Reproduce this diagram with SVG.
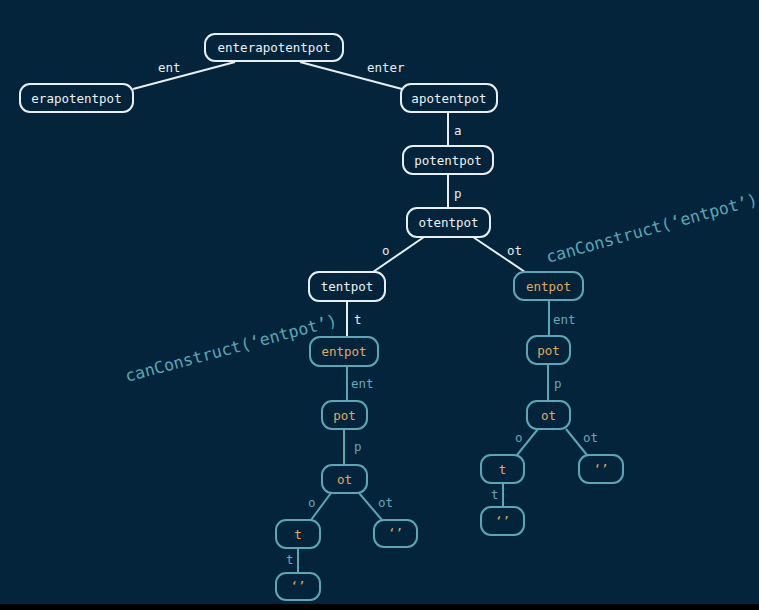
<svg xmlns="http://www.w3.org/2000/svg" width="759" height="610" viewBox="0 0 759 610">
<style>
.bg{fill:#03243a}
.nw rect{fill:#03243a;stroke:#e8eef1;stroke-width:2}
.nt rect{fill:#03243a;stroke:#5ba7b5;stroke-width:2}
.nw text{fill:#eef2f4;font-family:"DejaVu Sans Mono","Liberation Mono",monospace;font-size:12.5px;text-anchor:middle;dominant-baseline:central}
.nt text{fill:#e0ac5c;font-family:"DejaVu Sans Mono","Liberation Mono",monospace;font-size:12.5px;text-anchor:middle;dominant-baseline:central}
.ew{stroke:#e8eef1;stroke-width:2;fill:none}
.et{stroke:#5ba7b5;stroke-width:2;fill:none}
.lw{fill:#e8eef1;font-family:"DejaVu Sans Mono","Liberation Mono",monospace;font-size:12.5px}
.lt{fill:#6aa6b3;font-family:"DejaVu Sans Mono","Liberation Mono",monospace;font-size:12.5px}
.cc{fill:#5ba7b5;font-family:"DejaVu Sans Mono","Liberation Mono",monospace;font-size:16.5px}
</style>
<rect class="bg" x="0" y="0" width="759" height="604"/>
<rect x="0" y="604" width="759" height="6" fill="#000"/>
<g id="connectors">
<line class="ew" x1="235" y1="62" x2="133" y2="89"/>
<line class="ew" x1="300" y1="62" x2="402" y2="89"/>
<line class="ew" x1="448" y1="112" x2="448" y2="146"/>
<line class="ew" x1="448" y1="174" x2="448" y2="208"/>
<line class="ew" x1="424" y1="237" x2="373" y2="272"/>
<line class="ew" x1="473" y1="237" x2="525" y2="272"/>
<line class="ew" x1="347" y1="301" x2="347" y2="337"/>
<line class="et" x1="549" y1="300" x2="549" y2="336"/>
<line class="et" x1="347" y1="366" x2="347" y2="401"/>
<line class="et" x1="344" y1="429" x2="344" y2="465"/>
<line class="et" x1="331" y1="493" x2="311" y2="520"/>
<line class="et" x1="359" y1="493" x2="382" y2="520"/>
<line class="et" x1="298" y1="548" x2="298" y2="573"/>
<line class="et" x1="548" y1="364" x2="548" y2="401"/>
<line class="et" x1="538" y1="429" x2="517" y2="455"/>
<line class="et" x1="566" y1="429" x2="587" y2="455"/>
<line class="et" x1="503" y1="483" x2="503" y2="507"/>
<text class="lw" x="158" y="72">ent</text>
<text class="lw" x="367" y="72">enter</text>
<text class="lw" x="454" y="135">a</text>
<text class="lw" x="454" y="198">p</text>
<text class="lw" x="382" y="255">o</text>
<text class="lw" x="507" y="255">ot</text>
<text class="lw" x="354" y="324">t</text>
<text class="lt" x="553" y="324">ent</text>
<text class="lt" x="351" y="388">ent</text>
<text class="lt" x="354" y="451">p</text>
<text class="lt" x="554" y="388">p</text>
<text class="lt" x="308" y="507">o</text>
<text class="lt" x="378" y="507">ot</text>
<text class="lt" x="286" y="564">t</text>
<text class="lt" x="515" y="442">o</text>
<text class="lt" x="583" y="442">ot</text>
<text class="lt" x="491" y="499">t</text>
</g>
<text class="cc" transform="translate(127,382) rotate(-15)">canConstruct(‘entpot’)</text>
<text class="cc" transform="translate(548,263) rotate(-15.5)">canConstruct(‘entpot’)</text>
<g id="n_enterapotentpot" class="nw"><rect x="205" y="34" width="138" height="27" rx="10"/><text x="274" y="47.5">enterapotentpot</text></g>
<g id="n_erapotentpot" class="nw"><rect x="20" y="84" width="113" height="28" rx="10"/><text x="76.5" y="98">erapotentpot</text></g>
<g id="n_apotentpot" class="nw"><rect x="401" y="84" width="96" height="28" rx="10"/><text x="449" y="98">apotentpot</text></g>
<g id="n_potentpot" class="nw"><rect x="403" y="146" width="90" height="28" rx="10"/><text x="448" y="160">potentpot</text></g>
<g id="n_otentpot" class="nw"><rect x="407" y="208" width="83" height="29" rx="10"/><text x="448.5" y="222.5">otentpot</text></g>
<g id="n_tentpot" class="nw"><rect x="309" y="272" width="76" height="29" rx="10"/><text x="347" y="286.5">tentpot</text></g>
<g id="n_entpot_l" class="nt"><rect x="310" y="337" width="68" height="29" rx="10"/><text x="344" y="351.5">entpot</text></g>
<g id="n_pot_l" class="nt"><rect x="322" y="401" width="45" height="28" rx="10"/><text x="344.5" y="415">pot</text></g>
<g id="n_ot_l" class="nt"><rect x="322" y="465" width="45" height="28" rx="10"/><text x="344.5" y="479">ot</text></g>
<g id="n_t_l" class="nt"><rect x="276" y="520" width="44" height="28" rx="10"/><text x="298" y="534">t</text></g>
<g id="n_empty_l1" class="nt"><rect x="374" y="520" width="43" height="27" rx="10"/><text x="395.5" y="533.5">‘’</text></g>
<g id="n_empty_l2" class="nt"><rect x="276" y="573" width="44" height="27" rx="10"/><text x="298" y="586.5">‘’</text></g>
<g id="n_entpot_r" class="nt"><rect x="514" y="272" width="69" height="28" rx="10"/><text x="548.5" y="286">entpot</text></g>
<g id="n_pot_r" class="nt"><rect x="527" y="336" width="43" height="28" rx="10"/><text x="548.5" y="350">pot</text></g>
<g id="n_ot_r" class="nt"><rect x="527" y="401" width="43" height="28" rx="10"/><text x="548.5" y="415">ot</text></g>
<g id="n_t_r" class="nt"><rect x="481" y="455" width="43" height="28" rx="10"/><text x="502.5" y="469">t</text></g>
<g id="n_empty_r1" class="nt"><rect x="579" y="455" width="44" height="28" rx="10"/><text x="601" y="469">‘’</text></g>
<g id="n_empty_r2" class="nt"><rect x="481" y="507" width="43" height="28" rx="10"/><text x="502.5" y="521">‘’</text></g>
</svg>
